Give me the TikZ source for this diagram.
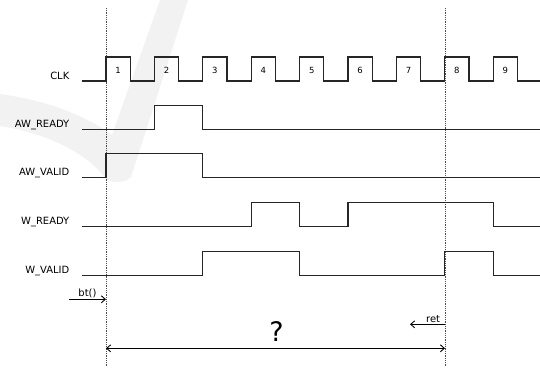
\documentclass[tikz,border=0pt]{standalone}
\usepackage{fontspec}
\setmainfont{DejaVu Sans}
\usetikzlibrary{arrows.meta,calc}

\begin{document}
\begin{tikzpicture}[x=1bp, y=-1bp,
		font=\fontsize{10}{12}\selectfont,
		sig/.style={line width=1.1bp, black!85, line join=miter},
		vline/.style={densely dotted, line width=0.8bp, black!70},
		lbl/.style={anchor=base east, inner sep=0pt},
		num/.style={font=\fontsize{8.5}{10}\selectfont, inner sep=0pt},
		arr/.style={-{Straight Barb[length=4bp,width=7bp]}, line width=0.9bp}
		]
		\useasboundingbox (0,0) rectangle (540,368);
		\def\per{48.4}
		% watermark (background check mark)
		\fill[gray!10] (160,0) -- (188,0) -- (131,177)
		.. controls (124,184) and (110,183) .. (105,178)
		.. controls (85,150) and (40,132) .. (0,126) -- (0,94)
		.. controls (45,100) and (85,115) .. (112,135) -- cycle;
		% call / return markers
		\coordinate (t0) at (106,8);
		\coordinate (t1) at (445,8);
		\draw[vline] (t0) -- ++(0,358);
		\draw[vline] (t1) -- ++(0,358);
		% signal names
		\node[lbl] (clk) at (69.5,79) {CLK};
		\node[lbl] (awready) at (69.5,127.3) {AW\_READY};
		\node[lbl] (awvalid) at (69.5,175.7) {AW\_VALID};
		\node[lbl] (wready) at (69.5,224.7) {W\_READY};
		\node[lbl] (wvalid) at (69.5,273.7) {W\_VALID};
		% clock
		\draw[sig] (82,81) \foreach \i in {0,...,8} {
			-- ({106+\per*\i},81) -- ++(0,-24) -- ++(24.2,0) -- ++(0,24)
		} -- (540,81);
		\foreach \i in {1,...,9}
		\node[num] (n\i) at ({118.1+\per*(\i-1)},70.5) {\i};
		% handshake signals
		\draw[sig] (82,129.3) -- (154.4,129.3) -- ++(0,-24) -- (202.8,105.3)
		-- ++(0,24) -- (540,129.3);
		\draw[sig] (82,177.7) -- (106,177.7) -- ++(0,-24) -- (202.8,153.7)
		-- ++(0,24) -- (540,177.7);
		\draw[sig] (82,226.7) -- (251.2,226.7) -- ++(0,-24) -- (299.6,202.7)
		-- ++(0,24) -- (348,226.7) -- ++(0,-24) -- (493.2,202.7)
		-- ++(0,24) -- (540,226.7);
		\draw[sig] (82,275.7) -- (202.8,275.7) -- ++(0,-24) -- (299.6,251.7)
		-- ++(0,24) -- (444.8,275.7) -- ++(0,-24) -- (493.2,251.7)
		-- ++(0,24) -- (540,275.7);
		% call, return, duration
		\coordinate (btfrom) at (69,299.3);
		\draw[arr] (btfrom) -- (btfrom -| t0)
		node[midway, above=1bp, inner sep=0pt] (bt) {bt()};
		\coordinate (retto) at (410,324.3);
		\draw[arr] (retto -| t1) -- (retto)
		node[pos=0.34, above=1.5bp, inner sep=0pt] (ret) {ret};
		\coordinate (span) at (0,348.3);
		\draw[arr, {Straight Barb[length=4bp,width=7bp]}-{Straight Barb[length=4bp,width=7bp]}]
		(span -| t0) -- (span -| t1);
		\node[font=\fontsize{27}{30}\selectfont] (q) at (276.5,332) {?};
	\end{tikzpicture}
\end{document}
